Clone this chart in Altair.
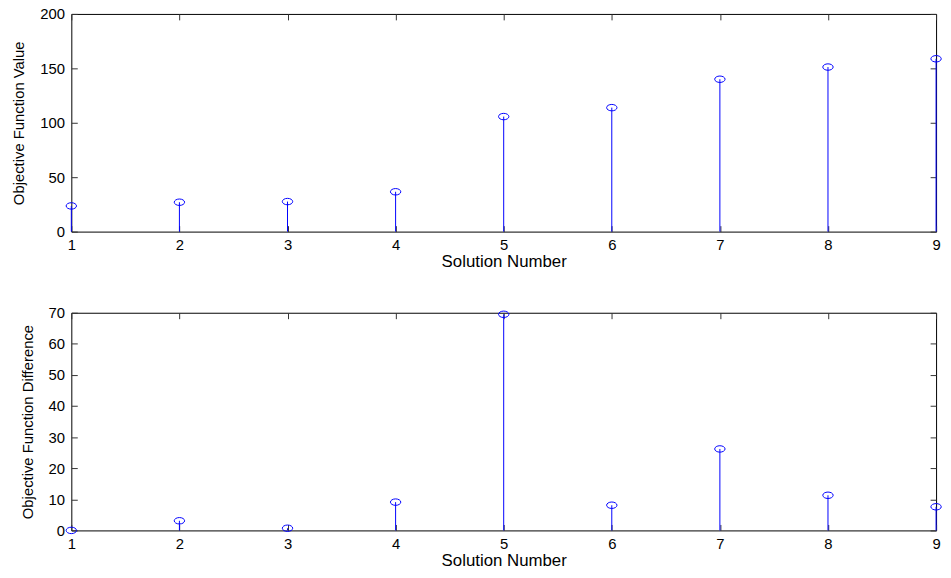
import altair as alt
import pandas as pd

solution = [1, 2, 3, 4, 5, 6, 7, 8, 9]
obj_value = [23.6, 27.0, 27.6, 36.6, 105.7, 113.9, 140.0, 151.2, 158.8]
obj_diff = [0.0, 3.1, 0.7, 9.1, 69.5, 8.1, 26.2, 11.3, 7.6]

x_ticks = [1, 2, 3, 4, 5, 6, 7, 8, 9]
value_ticks = [0, 50, 100, 150, 200]
diff_ticks = [0, 10, 20, 30, 40, 50, 60, 70]

BLUE = "#0000ff"
ELLIPSE = "M-1,0A1,0.62 0 1,0 1,0A1,0.62 0 1,0 -1,0Z"
INWARD = {"expr": "-6"}


def panel(values, ytitle, ydomain, yticks):
    df = pd.DataFrame({"solution": solution, "v": values})
    base = alt.Chart(df)
    xs = alt.Scale(domain=[1, 9], nice=False, zero=False)
    ys = alt.Scale(domain=ydomain, nice=False, zero=False)
    x_bottom = alt.Axis(values=x_ticks, orient="bottom", format="d", title="Solution Number",
                        tickSize=INWARD, labelPadding=12, domain=False, grid=False,
                        titlePadding=1, titleFontSize=17, labelFlush=False)
    y_left = alt.Axis(values=yticks, orient="left", format="d", title=ytitle,
                      tickSize=INWARD, labelPadding=13, domain=False, grid=False,
                      titlePadding=13, titleFontSize=15, labelFlush=False)
    x_top = alt.Axis(values=x_ticks, orient="top", labels=False, title=None,
                     tickSize=INWARD, domain=False, grid=False,
                     minExtent=0, maxExtent=0)
    y_right = alt.Axis(values=yticks, orient="right", labels=False, title=None,
                       tickSize=INWARD, domain=False, grid=False,
                       minExtent=0, maxExtent=0)
    stems = base.mark_rule(color=BLUE, strokeWidth=1).encode(
        x=alt.X("solution:Q", scale=xs, axis=x_bottom),
        y=alt.Y("v:Q", scale=ys, axis=y_left),
        y2=alt.datum(0),
    )
    marks = base.mark_point(shape=ELLIPSE, size=110, filled=False, color=BLUE,
                            strokeWidth=1, opacity=1).encode(
        x=alt.X("solution:Q", scale=xs, axis=x_top),
        y=alt.Y("v:Q", scale=ys, axis=y_right),
    )
    return alt.layer(stems, marks).properties(width=874, height=220)


top = panel(obj_value, "Objective Function Value", [0, 200], value_ticks)
bottom = panel(obj_diff, "Objective Function Difference", [0, 70], diff_ticks)

chart = alt.vconcat(top, bottom, spacing=82, bounds="flush").properties(
    padding={"left": 3, "top": -5, "right": -1, "bottom": -3},
    background="white",
).configure_view(
    stroke="black", strokeWidth=1
).configure_axis(
    labelFont="Liberation Sans", labelFontSize=15, labelColor="black",
    titleFont="Liberation Sans", titleFontWeight="normal", titleColor="black",
    tickColor="#333333", tickWidth=1,
)

chart.save("out.html", embed_options={"renderer": "svg", "actions": False})
